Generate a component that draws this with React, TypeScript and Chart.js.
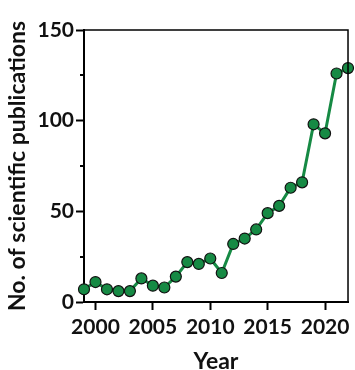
import React, { useEffect, useRef } from "react";
import { Chart, registerables } from "chart.js";

Chart.register(...registerables);

const years = [1999, 2000, 2001, 2002, 2003, 2004, 2005, 2006, 2007, 2008, 2009, 2010, 2011, 2012, 2013, 2014, 2015, 2016, 2017, 2018, 2019, 2020, 2021, 2022];
const publications = [7, 11, 7, 6, 6, 13, 9, 8, 14, 22, 21, 24, 16, 32, 35, 40, 49, 53, 63, 66, 98, 93, 126, 129];
const xTickValues = [2000, 2005, 2010, 2015, 2020];
const yTickValues = [0, 50, 100, 150];
const yMinorTickValues = [25, 75, 125];

const GREEN = "#168a44";
const FONT = "Lato, 'Open Sans', sans-serif";

const framePlugin = {
  id: "frame",
  afterDraw(chart: any) {
    const { ctx, chartArea, scales } = chart;
    ctx.save();
    ctx.strokeStyle = "#000";
    ctx.lineWidth = 1.5;
    ctx.beginPath();
    ctx.moveTo(chartArea.left, chartArea.top);
    ctx.lineTo(chartArea.right, chartArea.top);
    ctx.lineTo(chartArea.right, chartArea.bottom);
    ctx.stroke();
    ctx.lineWidth = 2;
    ctx.beginPath();
    for (const v of yMinorTickValues) {
      const y = Math.round(scales.y.getPixelForValue(v));
      ctx.moveTo(chartArea.left - 4, y);
      ctx.lineTo(chartArea.left, y);
    }
    ctx.stroke();
    ctx.restore();
  },
};

export default function App() {
  const ref = useRef<HTMLCanvasElement>(null);
  useEffect(() => {
    if (!ref.current) return;
    const chart = new Chart(ref.current, {
      type: "line",
      data: {
        datasets: [
          {
            data: years.map((y, i) => ({ x: y, y: publications[i] })),
            borderColor: GREEN,
            borderWidth: 3,
            backgroundColor: GREEN,
            pointBackgroundColor: GREEN,
            pointBorderColor: "#111",
            pointBorderWidth: 1.2,
            pointRadius: 5.5,
            clip: false as any,
            tension: 0,
          },
        ],
      },
      options: {
        animation: false,
        responsive: false,
        layout: { padding: { top: 30, right: 1, left: 0, bottom: 0 } },
        plugins: { legend: { display: false }, tooltip: { enabled: false } },
        scales: {
          x: {
            type: "linear",
            min: 1999,
            max: 2022,
            afterBuildTicks: (s: any) => {
              s.ticks = xTickValues.map((v) => ({ value: v }));
            },
            afterFit: (s: any) => {
              s.height = 68;
            },
            grid: { drawOnChartArea: false, drawTicks: true, tickLength: 8, tickColor: "#000", tickWidth: 2 },
            border: { display: true, color: "#000", width: 2 },
            ticks: {
              color: "#111",
              font: { family: FONT, size: 21, weight: "bold" },
              padding: 5,
              maxRotation: 0,
              callback: (v: any) => String(v),
            },
            title: {
              display: true,
              text: "Year",
              color: "#111",
              font: { family: FONT, size: 23, weight: "bold", lineHeight: 1 },
              padding: { top: 0, bottom: -3.5 },
            },
          },
          y: {
            type: "linear",
            min: 0,
            max: 150,
            afterBuildTicks: (s: any) => {
              s.ticks = yTickValues.map((v) => ({ value: v }));
            },
            afterFit: (s: any) => {
              s.width = 84;
            },
            grid: { drawOnChartArea: false, drawTicks: true, tickLength: 8, tickColor: "#000", tickWidth: 2 },
            border: { display: true, color: "#000", width: 2 },
            ticks: {
              color: "#111",
              font: { family: FONT, size: 21, weight: "bold" },
              padding: 2,
            },
            title: {
              display: true,
              text: "No. of scientific publications",
              color: "#111",
              font: { family: FONT, size: 23, weight: "bold", lineHeight: 1.2 },
              padding: { top: 4, bottom: 0 },
            },
          },
        },
      },
      plugins: [framePlugin],
    });
    return () => chart.destroy();
  }, []);
  return (
    <div style={{ position: "absolute", left: 0, top: 0, width: 355, height: 370, background: "#fff" }}>
      <canvas ref={ref} width={355} height={370} style={{ display: "block" }} />
    </div>
  );
}
